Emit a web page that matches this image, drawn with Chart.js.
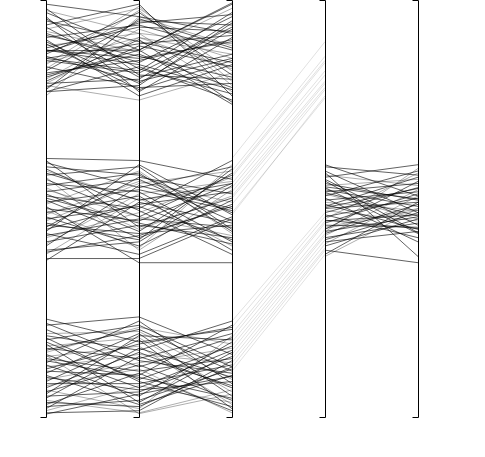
<!DOCTYPE html>
<html>
<head>
<meta charset="utf-8">
<script src="https://cdn.jsdelivr.net/npm/chart.js@4/dist/chart.umd.min.js"></script>
<style>
html,body{margin:0;padding:0;background:#fff;}
#c{display:block;}
</style>
</head>
<body>
<canvas id="c" width="485" height="457"></canvas>
<script>
// Axis categories (dimensions of the parallel coordinates plot)
const dimensions = ["d1", "d2", "d3", "d4", "d5"];

// Rows in the upper cluster (values on dims 1-3, normalised 0-100)
const topRows = [
  [99, 96, 92], [97, 88, 99], [95, 90, 85], [93, 98, 83], [92, 85, 96],
  [91, 94, 88], [90, 80, 93], [89, 92, 78], [88, 86, 90], [87, 97, 82],
  [86, 83, 97], [85, 91, 87], [84, 79, 80], [83, 95, 94], [82, 87, 79],
  [81, 93, 86], [80, 81, 95], [79, 89, 84], [78, 84, 76], [77, 96, 89],
  [98, 82, 81], [96, 78, 91], [94, 99, 77], [92.5, 87.5, 98], [90.5, 77, 84.5],
  [88.5, 93.5, 92.5], [86.5, 80.5, 86], [84.5, 98.5, 80.5], [82.5, 85.5, 90.5], [80.5, 90.5, 75.5],
  [78.5, 95.5, 88.5], [79.5, 76, 82.5], [89.5, 78.5, 85.5], [93.5, 81.5, 87], [87.5, 94.5, 96.5],
  [83.5, 97.5, 79.5], [91.5, 86.5, 81.5], [85.5, 82.5, 93.5], [81.5, 88, 99.3], [97.5, 92, 89.5],
  [78, 79.5, 94.5], [95.5, 83.5, 77.5], [86, 89.5, 91.5], [80, 91, 83.5], [88, 84.5, 78.5],
  [87.8, 88, 75]
];

// Rows in the middle cluster
const midRows = [
  [62, 61.5, 57], [61, 55, 60], [60, 58, 49], [59, 52, 55], [58, 60, 45],
  [57, 48, 58], [56, 54, 42], [55, 45, 53], [54, 57, 47], [53, 50, 61.5],
  [52, 43, 51], [51, 59, 44], [50, 47, 56], [49, 53, 40], [48, 41, 52],
  [47, 56, 59], [46, 44, 46], [45, 51, 54], [44, 39, 48], [43, 49, 57.5],
  [42, 46, 43], [41, 55.5, 50], [40, 42, 55.5], [39, 52.5, 41], [38, 38, 47.5],
  [61.5, 45.5, 52.5], [59.5, 49.5, 39], [57.5, 40, 54.5], [55.5, 58.5, 44.5], [53.5, 44.5, 58.5],
  [51.5, 54.5, 49.5], [49.5, 40.5, 60.5], [47.5, 50.5, 42.5], [45.5, 57.5, 53.5], [43.5, 47.5, 45.5],
  [41.5, 53.5, 56.5], [39.5, 43.5, 50.5], [37.5, 51.5, 46.5], [50.5, 37, 37], [48.5, 56.5, 51.5],
  [52.5, 46.5, 41.5], [44.5, 60.5, 48.5], [46.5, 42.5, 59.5], [54.5, 48, 43.5], [58.5, 52, 56]
];

// Rows in the lower cluster
const lowRows = [
  [23.5, 18, 21], [22, 24, 15], [21, 12, 19], [20, 20.5, 9], [19.5, 16, 23],
  [18.5, 22, 12], [18, 9, 17], [17, 19, 6], [16.5, 14, 20], [16, 21, 11],
  [15, 7, 16], [14.5, 17, 3], [14, 11, 14], [13, 23, 8], [12.5, 5, 18],
  [12, 15, 13], [11, 10, 22], [10.5, 20, 5], [10, 3, 10], [9, 13, 16.5],
  [8.5, 18.5, 2], [8, 8, 12.5], [7, 15.5, 7], [6.5, 2, 19.5], [6, 12.5, 4],
  [5, 6, 14.5], [4.5, 16.5, 9.5], [4, 1, 6.5], [3, 10.5, 1.5], [2.5, 4, 11.5],
  [2, 14.5, 7.5], [1.5, 7.5, 3.5], [1, 1.5, 13.5], [22.5, 13.5, 10.5], [17.5, 3.5, 15.5],
  [15.5, 21.5, 17.5], [13.5, 9.5, 4.5], [11.5, 17.5, 21.5], [9.5, 6.5, 8.5], [7.5, 11.5, 1],
  [5.5, 19.5, 18.5], [3.5, 2.5, 12], [19, 8.5, 2.5], [14.8, 0.8, 5.5], [0.7, 5.5, 9.8]
];

// Faint links from dim 3 to dim 4
const faintLinks = [
  [62, 90], [59, 86.5], [58, 85.5], [57.5, 85], [56, 83], [55, 82],
  [54, 80.5], [53, 80], [52.5, 79], [51, 78.5], [49, 76.5], [48.5, 77],
  [23, 49], [21.5, 48], [20, 47], [19, 46.5], [18, 45], [17, 44],
  [16, 43.5], [15, 42.5], [14, 41.5], [13, 40.5], [12, 40], [11, 39]
];

// Rows on dims 4-5
const rightRows = [
  [60.5, 53], [60, 58], [59, 49], [58, 55.5], [57.5, 60.5], [57, 46],
  [56, 52], [55.5, 57], [55, 44], [54.5, 50.5], [54, 56], [53.5, 47.5],
  [53, 59], [52.5, 42], [52, 54], [51.5, 49.5], [51, 45], [50.5, 57.5],
  [50, 51.5], [49.5, 47], [49, 55], [48.5, 43], [48, 52.5], [47.5, 58.5],
  [47, 48.5], [46.5, 53.5], [46, 45.5], [45.5, 50], [45, 56.5], [44.5, 48],
  [44, 51], [43.5, 54.5], [43, 46.5], [42.5, 49], [42, 44.5], [41.5, 53],
  [41, 47.5], [40, 37], [39, 51.5], [38.5, 50], [55.2, 52.3], [50.2, 54.8],
  [47.2, 45.2], [45.2, 49.6], [53.8, 48.2], [58.6, 38.5], [56.6, 44.2], [44.4, 59.6]
];

const datasets = [];
function lineColor(i) {
  return (i % 4 === 3) ? "rgba(0,0,0,0.32)" : "rgba(0,0,0,0.62)";
}
[topRows, midRows, lowRows].forEach(rows => {
  rows.forEach((r, i) => {
    datasets.push({ data: [r[0], r[1], r[2], null, null], borderColor: lineColor(i) });
  });
});
faintLinks.forEach(r => {
  datasets.push({ data: [null, null, r[0], r[1], null], borderColor: "rgba(0,0,0,0.12)" });
});
rightRows.forEach((r, i) => {
  datasets.push({ data: [null, null, null, r[0], r[1]], borderColor: lineColor(i) });
});
datasets.forEach(d => {
  d.borderWidth = 1; d.pointRadius = 0; d.pointHoverRadius = 0;
  d.fill = false; d.tension = 0; d.spanGaps = false;
});

const axesPlugin = {
  id: "pcAxes",
  afterDatasetsDraw(chart) {
    const ctx = chart.ctx;
    const xs = chart.scales.x, ys = chart.scales.y;
    const top = Math.round(ys.getPixelForValue(100)) + 0.5;
    const bot = Math.round(ys.getPixelForValue(0)) + 0.5;
    ctx.save();
    ctx.strokeStyle = "#000";
    ctx.lineWidth = 1;
    dimensions.forEach((d, i) => {
      const x = Math.round(xs.getPixelForValue(i)) + 0.5;
      ctx.beginPath();
      ctx.moveTo(x, top); ctx.lineTo(x, bot);
      ctx.moveTo(x - 6, top); ctx.lineTo(x, top);
      ctx.moveTo(x - 6, bot); ctx.lineTo(x, bot);
      ctx.stroke();
    });
    ctx.restore();
  }
};

new Chart(document.getElementById("c"), {
  type: "line",
  data: { labels: dimensions, datasets },
  options: {
    responsive: false,
    animation: false,
    devicePixelRatio: 1,
    layout: { padding: { left: 46, right: 67, top: 0, bottom: 40 } },
    plugins: { legend: { display: false }, tooltip: { enabled: false } },
    events: [],
    scales: {
      x: { type: "category", offset: false, display: false },
      y: { type: "linear", min: 0, max: 100, display: false }
    }
  },
  plugins: [axesPlugin]
});
</script>
</body>
</html>
